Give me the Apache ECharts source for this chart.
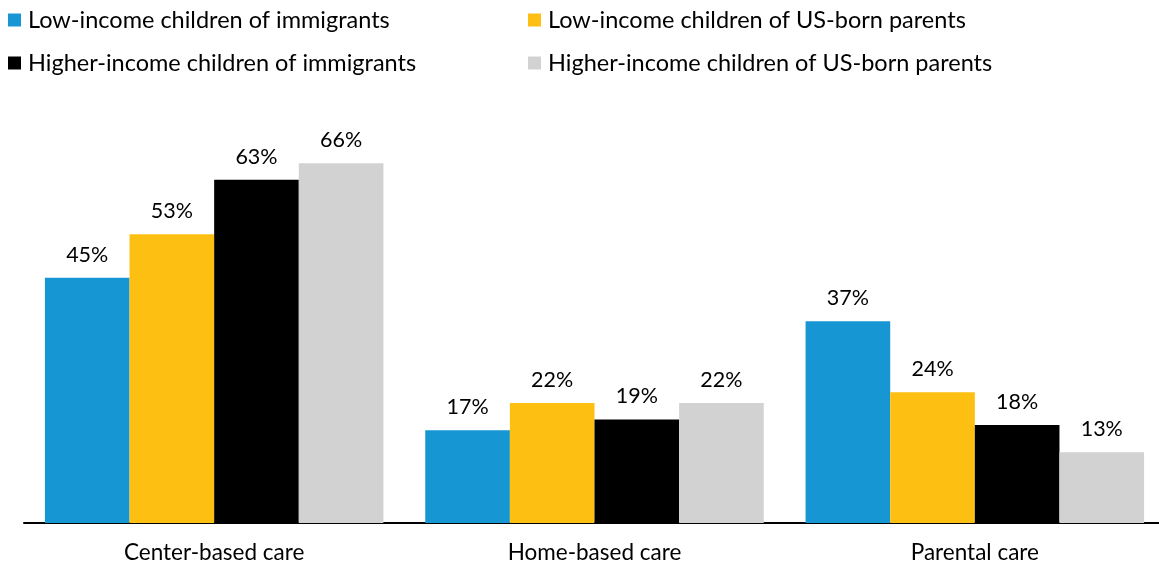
<!DOCTYPE html>
<html>
<head>
<meta charset="utf-8">
<script src="https://cdn.jsdelivr.net/npm/echarts@6/dist/echarts.min.js"></script>
<style>
  html, body { margin: 0; padding: 0; background: #fff; overflow: hidden; }
  #chart { width: 1170px; height: 565px; }
</style>
</head>
<body>
<div id="chart"></div>
<script>
var categories = ['Center-based care', 'Home-based care', 'Parental care'];
var seriesNames = [
  'Low-income children of immigrants',
  'Low-income children of US-born parents',
  'Higher-income children of immigrants',
  'Higher-income children of US-born parents'
];
var lowImmigrant = [45, 17, 37];
var lowUSBorn = [53, 22, 24];
var highImmigrant = [63, 19, 18];
var highUSBorn = [66, 22, 13];
var colors = ['#1696d2', '#fdbf11', '#000000', '#d2d2d2'];

var values = [lowImmigrant, lowUSBorn, highImmigrant, highUSBorn];
var font = 'Lato, "DejaVu Sans", sans-serif';

// legend is laid out as a 2x2 block
var legendPos = [
  { left: 8, top: 8 },
  { left: 528, top: 8 },
  { left: 8, top: 51 },
  { left: 528, top: 51 }
];

var option = {
  animation: false,
  backgroundColor: '#fff',
  color: colors,
  textStyle: { fontFamily: font },
  legend: legendPos.map(function (p, i) {
    return {
      left: p.left,
      top: p.top,
      data: [seriesNames[i]],
      icon: 'rect',
      itemWidth: 13,
      itemHeight: 13,
      itemGap: 0,
      padding: 0,
      selectedMode: false,
      textStyle: { fontFamily: font, fontSize: 23.5, color: '#000', padding: [0, 0, 0, 2] }
    };
  }),
  grid: { left: 24, width: 1141, top: 87, bottom: 42, containLabel: false },
  xAxis: {
    type: 'category',
    data: categories,
    axisLine: { lineStyle: { color: '#000', width: 2 } },
    axisTick: { show: false },
    axisLabel: { fontFamily: font, fontSize: 22.5, color: '#000', margin: 18 }
  },
  yAxis: {
    type: 'value',
    min: 0,
    max: 80,
    show: false,
    splitLine: { show: false }
  },
  series: seriesNames.map(function (name, i) {
    return {
      name: name,
      type: 'bar',
      data: values[i],
      barGap: '0%',
      barCategoryGap: '11%',
      label: {
        show: true,
        position: 'top',
        distance: 12,
        formatter: '{c}%',
        fontFamily: font,
        fontSize: 21.5,
        color: '#000'
      }
    };
  })
};

var myChart = echarts.init(document.getElementById('chart'));
myChart.setOption(option);
</script>
</body>
</html>
